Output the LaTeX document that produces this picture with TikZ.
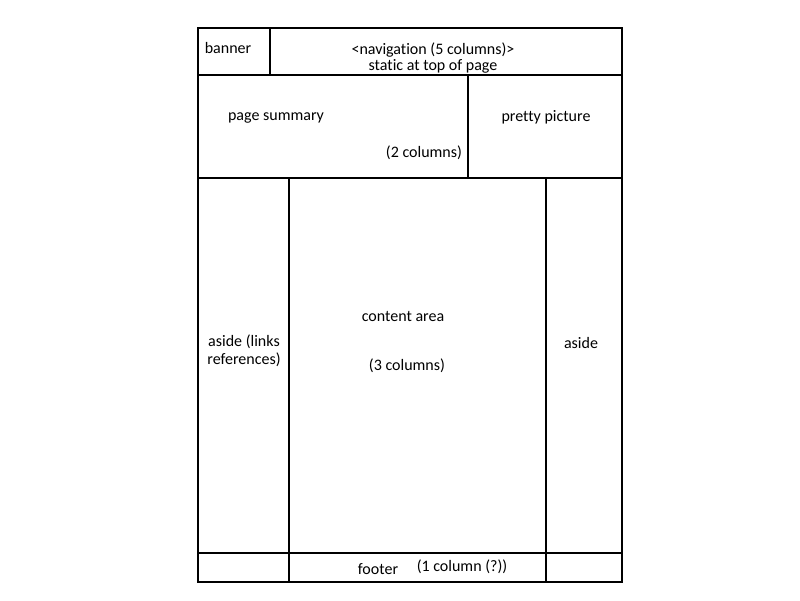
\documentclass[tikz,border=0pt]{standalone}
\usepackage{fontspec}
\setmainfont[Ligatures=NoCommon]{Carlito}
\begin{document}
\begin{tikzpicture}[x=1pt,y=-1pt,
  grid/.style={line width=1.8pt,black},
  frame/.style={line width=2.6pt,black},
  lbl/.style={inner sep=0pt,font=\fontsize{16}{17}\selectfont,align=center}]
\useasboundingbox (0,0) rectangle (800,600);
% inner dividers
\draw[grid] (198,75) -- (622,75);
\draw[grid] (198,178) -- (622,178);
\draw[grid] (198,553) -- (622,553);
\draw[grid] (270,28) -- (270,75);
\draw[grid] (468,75) -- (468,178);
\draw[grid] (289,178) -- (289,582);
\draw[grid] (546,178) -- (546,582);
% outer frame
\draw[frame] (198,28) rectangle (622,582);
% labels
\node[lbl] (banner) at (228,48) {banner};
\node[lbl,font=\fontsize{16}{16}\selectfont] (nav) at (433,58) {<navigation (5 columns)>\\static at top of page};
\node[lbl] (summary) at (276,118) {page summary};
\node[lbl] (twocol) at (424,153) {(2 columns)};
\node[lbl] (picture) at (546,117) {pretty picture};
\node[lbl] (content) at (403,316) {content area};
\node[lbl] (threecol) at (407,366) {(3 columns)};
\node[lbl,font=\fontsize{16}{18}\selectfont] (asideL) at (244,351) {aside (links\\references)};
\node[lbl] (asideR) at (581,343) {aside};
\node[lbl] (footer) at (378,569) {footer};
\node[lbl] (onecol) at (462,567) {(1 column (?))};
\end{tikzpicture}
\end{document}
